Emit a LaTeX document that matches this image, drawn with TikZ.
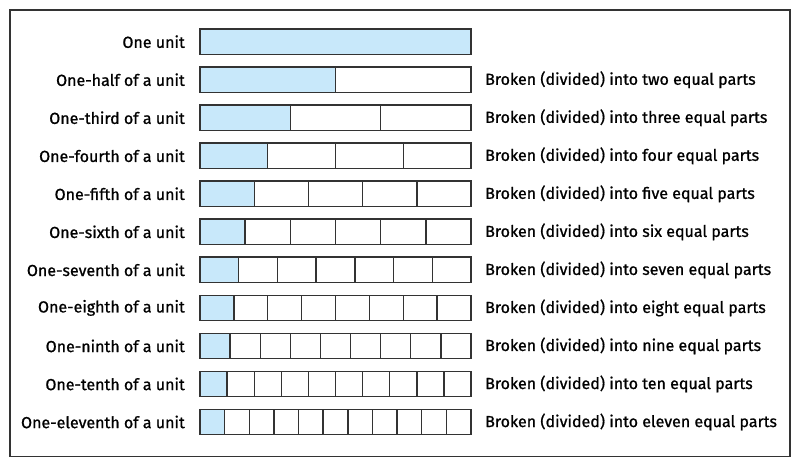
\documentclass[tikz,border=0pt]{standalone}
\usepackage{fontspec}
\setmainfont[FakeBold=0.9]{Fira Sans}
\definecolor{partblue}{HTML}{C8E8FA}
\definecolor{edge}{HTML}{333333}
\begin{document}
\begin{tikzpicture}[x=1pt,y=-1pt,
  cell/.style={draw=edge,line width=1.4pt},
  lefttext/.style={anchor=east,font=\fontsize{16}{18}\selectfont,inner sep=0pt},
  righttext/.style={anchor=west,font=\fontsize{16}{18}\selectfont,inner sep=0pt}]
\useasboundingbox (0,0) rectangle (800,465);
\draw[draw=edge,line width=1.5pt] (10,10) rectangle (790,456.5);
\foreach \n/\lab/\rt [count=\i from 0] in {
  1/One unit/,
  2/One-half of a unit/Broken (divided) into two equal parts,
  3/One-third of a unit/Broken (divided) into three equal parts,
  4/One-fourth of a unit/Broken (divided) into four equal parts,
  5/One-fifth of a unit/Broken (divided) into five equal parts,
  6/One-sixth of a unit/Broken (divided) into six equal parts,
  7/One-seventh of a unit/Broken (divided) into seven equal parts,
  8/One-eighth of a unit/Broken (divided) into eight equal parts,
  9/One-ninth of a unit/Broken (divided) into nine equal parts,
  10/One-tenth of a unit/Broken (divided) into ten equal parts,
  11/One-eleventh of a unit/Broken (divided) into eleven equal parts}{
  \pgfmathsetmacro{\top}{29+38.03*\i}
  \pgfmathsetmacro{\w}{271/\n}
  \node[lefttext] (L\n) at (185,\top+12.7) {\lab};
  \foreach \k in {1,...,\n}{
    \pgfmathsetmacro{\xa}{200+(\k-1)*\w}
    \ifnum\k=1
      \path[cell,fill=partblue] (\xa,\top) rectangle ++(\w,25.3);
    \else
      \path[cell,fill=white] (\xa,\top) rectangle ++(\w,25.3);
    \fi
  }
  \node[righttext] (R\n) at (485,\top+12.7) {\rt};
}
\end{tikzpicture}
\end{document}
